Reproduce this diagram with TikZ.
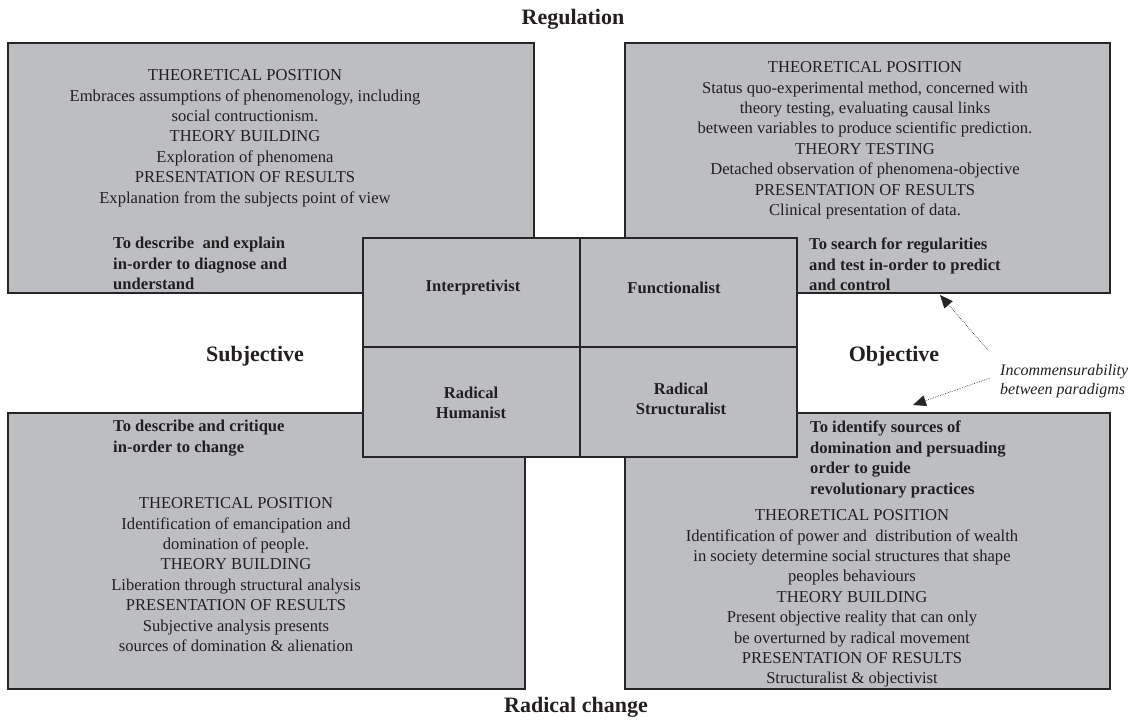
\documentclass[tikz,border=0pt]{standalone}
\usepackage{fontspec}
\setmainfont{Liberation Serif}
\usetikzlibrary{arrows.meta}
\definecolor{boxc}{RGB}{189,190,194}
\definecolor{linec}{RGB}{38,38,38}
\definecolor{inkc}{RGB}{35,31,32}
\newcommand{\bodysize}{\fontsize{16.6}{20.4}\selectfont}
\begin{document}
\begin{tikzpicture}[x=1pt,y=-1pt,
  box/.style={draw=linec, fill=boxc, line width=1.1pt, inner sep=0pt, outer sep=0pt, anchor=north west},
  body/.style={align=center, font=\bodysize, inner sep=0pt, anchor=north, text=inkc},
  goal/.style={align=left, font=\bodysize\bfseries, inner sep=0pt, anchor=north west, text=inkc},
  cell/.style={align=center, font=\bodysize\bfseries, inner sep=0pt, text=inkc},
  axis/.style={font=\fontsize{22}{26}\selectfont\bfseries, inner sep=0pt, text=inkc},
  note/.style={align=left, font=\fontsize{16}{19.5}\selectfont\itshape, inner sep=0pt, anchor=north west, text=inkc},
  link/.style={draw=linec, line width=0.6pt, dash pattern=on 0.7pt off 1.1pt, -{Triangle[length=13pt,width=11pt]}}]
\useasboundingbox (0,0) rectangle (1137,720);

% corner boxes
\node[box, minimum width=526pt, minimum height=250pt] (tl) at (8,43) {};
\node[box, minimum width=485pt, minimum height=250pt] (tr) at (625,43) {};
\node[box, minimum width=517pt, minimum height=276pt] (bl) at (8,413) {};
\node[box, minimum width=485pt, minimum height=276pt] (br) at (625,413) {};

% texts of corner boxes
\node[body] (tltext) at (245,69.5) {THEORETICAL POSITION\\Embraces assumptions of phenomenology, including\\social contructionism.\\THEORY BUILDING\\Exploration of phenomena\\PRESENTATION OF RESULTS\\Explanation from the subjects point of view};
\node[goal] (tlgoal) at (113,237) {To describe\ \ and explain\\in-order to diagnose and\\understand};

\node[body] (trtext) at (865,61.5) {THEORETICAL POSITION\\Status quo-experimental method, concerned with\\theory testing, evaluating causal links\\between variables to produce scientific prediction.\\THEORY TESTING\\Detached observation of phenomena-objective\\PRESENTATION OF RESULTS\\Clinical presentation of data.};
\node[goal] (trgoal) at (809,238) {To search for regularities\\and test in-order to predict\\and control};

\node[goal] (blgoal) at (113,420) {To describe and critique\\in-order to change};
\node[body] (bltext) at (236,497.5) {THEORETICAL POSITION\\Identification of emancipation and\\domination of people.\\THEORY BUILDING\\Liberation through structural analysis\\PRESENTATION OF RESULTS\\Subjective analysis presents\\sources of domination \& alienation};

\node[goal] (brgoal) at (810,421) {To identify sources of\\domination and persuading\\order to guide\\revolutionary practices};
\node[body] (brtext) at (852,509.5) {THEORETICAL POSITION\\Identification of power and\ \ distribution of wealth\\in society determine social structures that shape\\peoples behaviours\\THEORY BUILDING\\Present objective reality that can only\\be overturned by radical movement\\PRESENTATION OF RESULTS\\Structuralist \& objectivist};

% central grid
\node[box, minimum width=217pt, minimum height=109pt] (ip) at (363,238) {};
\node[box, minimum width=217pt, minimum height=109pt] (fn) at (580,238) {};
\node[box, minimum width=217pt, minimum height=110pt] (rh) at (363,347) {};
\node[box, minimum width=217pt, minimum height=110pt] (rs) at (580,347) {};
\node[cell] (iplabel) at (473,288) {Interpretivist};
\node[cell] (fnlabel) at (674,288) {Functionalist};
\node[cell] (rhlabel) at (471,403) {Radical\\Humanist};
\node[cell] (rslabel) at (681,399) {Radical\\Structuralist};

% axis labels
\node[axis] (reg) at (573,19) {Regulation};
\node[axis] (rad) at (576,707) {Radical change};
\node[axis] (subj) at (255,356) {Subjective};
\node[axis] (obj) at (894,356) {Objective};

% incommensurability note
\node[note] (note) at (1000,364) {Incommensurability\\between paradigms};
\coordinate (s1) at (988,350);
\coordinate (t1) at (940,295);
\coordinate (s2) at (990,378);
\coordinate (t2) at (913,405);
\draw[link] (s1) -- (t1);
\draw[link] (s2) -- (t2);
\end{tikzpicture}
\end{document}
